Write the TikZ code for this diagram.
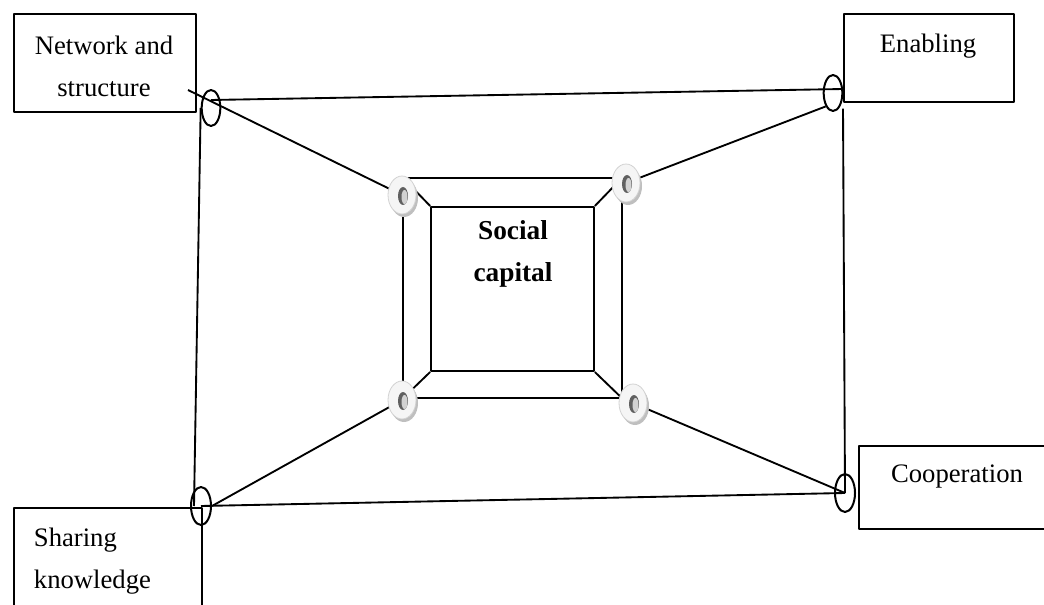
\documentclass[tikz,border=0pt]{standalone}
\usepackage{fontspec}
\setmainfont{Liberation Serif}
\usetikzlibrary{shapes.geometric}

\begin{document}
\begin{tikzpicture}[
		x=0.75pt, y=-0.75pt,
		line join=round,
		line width=1.4pt,
		font=\fontsize{20}{31.5}\selectfont,
		box/.style={draw, line width=1.7pt, inner sep=0pt, anchor=north west},
		lbl/.style={inner sep=0pt},
		oval/.style={draw, ellipse, line width=1.5pt, inner sep=0pt, minimum width=14pt, minimum height=27pt},
		frame/.style={draw, line width=1.6pt, inner sep=0pt}
		]
		
		% Page
		\useasboundingbox (0,0) rectangle (1044,605);
		
		% Outer boxes
		\node[box, minimum width=136.5pt, minimum height=73.5pt] (net) at (13,13) {};
		\node[box, minimum width=127.5pt, minimum height=66pt] (enab) at (843,13) {};
		\node[box, minimum width=141pt, minimum height=90pt] (share) at (13,507) {};
		\node[box, minimum width=151.5pt, minimum height=62.25pt] (coop) at (858,445) {};
		
		% Box labels
		\node[lbl, align=center] (nett) at (104,66) {Network and\\structure};
		\node[lbl] (enabt) at (928,46) {Enabling};
		\node[lbl, align=left, anchor=west] (sharet) at (33,561) {Sharing\\knowledge};
		\node[lbl] (coopt) at (957,477) {Cooperation};
		
		% Ovals
		\node[oval] (nwo) at (211,108) {};
		\node[oval] (neo) at (833,93) {};
		\node[oval, minimum width=15pt, minimum height=28.5pt] (swo) at (201,506) {};
		\node[oval, minimum width=15pt, minimum height=28.5pt] (seo) at (845,493) {};
		
		% Centre frame
		\node[frame, minimum width=164pt, minimum height=165pt] (outer) at (512.5,288) {};
		\node[frame, minimum width=122pt, minimum height=123pt] (core) at (512.5,289) {};
		\foreach \c in {north west, north east, south west, south east}
		{
			\draw (outer.\c) -- (core.\c);
		}
		\node[lbl, align=center, font=\fontsize{20.5}{31.5}\selectfont\bfseries] (sct) at (513,254) {Social\\capital};
		
		% Ring points
		\coordinate (r1) at (402,195);
		\coordinate (r2) at (626,183);
		\coordinate (r3) at (402,400);
		\coordinate (r4) at (633,403);
		\coordinate (tail) at (188,90);
		
		% Links
		\draw ([yshift=6pt]nwo.center) -- ([yshift=3pt]neo.east);
		\draw (nwo.west) -- ([xshift=3pt]swo.west);
		\draw ([yshift=-4pt]enab.south west) -- (seo.center);
		\draw (swo.center) -- (seo.center);
		\draw (tail) -- (r1);
		\draw (r2) -- (neo.south west);
		\draw (r3) -- (swo.east);
		\draw (r4) -- (seo.center);
		
		% Rings
		\foreach \r in {r1,r2,r3,r4}
		{
			\fill[gray!50] ([shift={(2,3)}]\r) ellipse (14 and 19);
			\filldraw[fill=gray!8, draw=gray!35, line width=0.6pt] (\r) ellipse (14 and 19);
			\fill[gray!75!black] ([shift={(1,1)}]\r) ellipse (5 and 9);
			\fill[gray!35] ([shift={(2.5,2)}]\r) ellipse (3 and 7);
		}
		
	\end{tikzpicture}
\end{document}
